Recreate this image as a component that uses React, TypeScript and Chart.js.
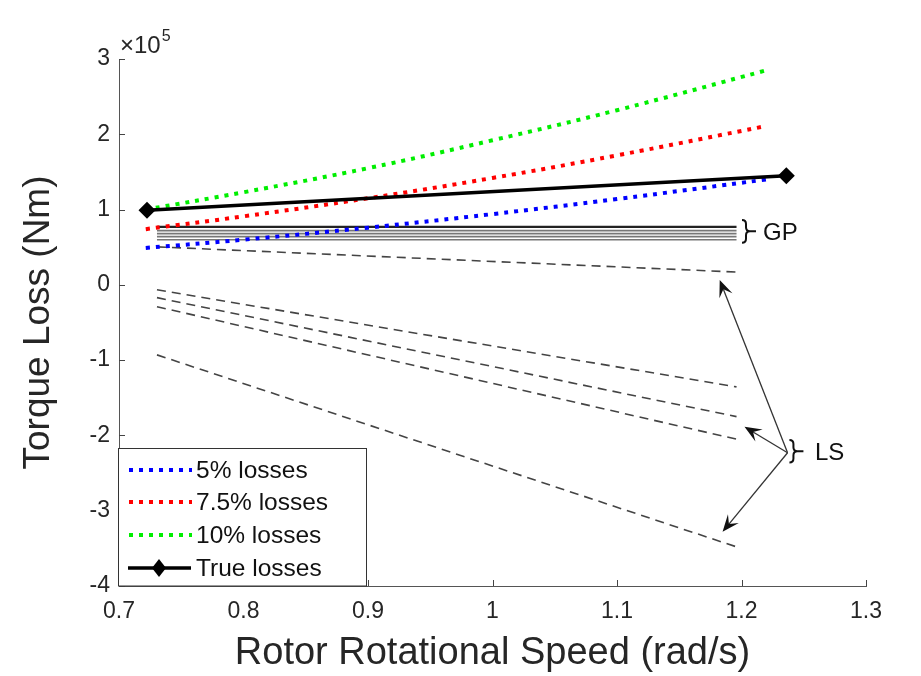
import React, { useEffect, useRef } from "react";
import { Chart, registerables } from "chart.js";

Chart.register(...registerables);

// ---- data (torque in Nm) ----
const speedCurve = [0.7215, 0.8, 0.9, 1.0, 1.1, 1.22];
const loss5 = [0.49e5, 0.6e5, 0.76e5, 0.94e5, 1.14e5, 1.4e5];
const loss75 = [0.74e5, 0.91e5, 1.15e5, 1.42e5, 1.72e5, 2.11e5];
const loss10 = [1.0e5, 1.23e5, 1.55e5, 1.92e5, 2.32e5, 2.85e5];
const speedTrue = [0.7225, 1.236];
const lossTrue = [0.99e5, 1.45e5];

const gpSpeed = [0.7305, 1.196];
const gpLevels = [0.77e5, 0.72e5, 0.68e5, 0.64e5, 0.6e5];

const lsSpeed = [0.7305, 1.196];
const lsStart = [0.505e5, -0.066e5, -0.17e5, -0.29e5, -0.93e5];
const lsEnd = [0.17e5, -1.355e5, -1.75e5, -2.05e5, -3.48e5];

const xTicks = [0.7, 0.8, 0.9, 1.0, 1.1, 1.2, 1.3];
const yTicks = [-4e5, -3e5, -2e5, -1e5, 0, 1e5, 2e5, 3e5];

const legendLabels = ["5% losses", "7.5% losses", "10% losses", "True losses"];
const legendColors = ["#0000ff", "#ff0000", "#00ee00", "#000000"];

// annotations (data coords)
const arrowOrigin = [1.237, -2.23e5];
const arrowTips = [
  [1.1825, 0.066e5],
  [1.2024, -1.885e5],
  [1.1848, -3.28e5],
];
const gpBrace = { x: 1.2004, yTop: 0.863e5, yBot: 0.558e5, label: "GP", tx: 1.2173, ty: 0.7e5 };
const lsBrace = { x: 1.2385, yTop: -2.06e5, yBot: -2.36e5, label: "LS", tx: 1.259, ty: -2.23e5 };

const FONT = '"Liberation Sans", Arial, Helvetica, sans-serif';

function toXY(xs: number[], ys: number[]) {
  return xs.map((x, i) => ({ x, y: ys[i] }));
}

function drawBrace(ctx: CanvasRenderingContext2D, x: number, yTop: number, yBot: number) {
  const w = 8;
  const m = (yTop + yBot) / 2;
  ctx.beginPath();
  ctx.moveTo(x, yTop);
  ctx.quadraticCurveTo(x + w / 2, yTop, x + w / 2, yTop + 4);
  ctx.lineTo(x + w / 2, m - 4);
  ctx.quadraticCurveTo(x + w / 2, m, x + w, m);
  ctx.quadraticCurveTo(x + w / 2, m, x + w / 2, m + 4);
  ctx.lineTo(x + w / 2, yBot - 4);
  ctx.quadraticCurveTo(x + w / 2, yBot, x, yBot);
  ctx.moveTo(x + w, m);
  ctx.lineTo(x + w + 6, m);
  ctx.stroke();
}

function drawArrow(ctx: CanvasRenderingContext2D, x0: number, y0: number, x1: number, y1: number) {
  const ang = Math.atan2(y1 - y0, x1 - x0);
  const L = 17;
  const W = 7;
  const notch = 10;
  ctx.beginPath();
  ctx.moveTo(x0, y0);
  ctx.lineTo(x1 - Math.cos(ang) * notch, y1 - Math.sin(ang) * notch);
  ctx.stroke();
  ctx.save();
  ctx.translate(x1, y1);
  ctx.rotate(ang);
  ctx.beginPath();
  ctx.moveTo(0, 0);
  ctx.lineTo(-L, -W);
  ctx.lineTo(-notch, 0);
  ctx.lineTo(-L, W);
  ctx.closePath();
  ctx.fill();
  ctx.restore();
}

const decorPlugin = {
  id: "decor",
  afterDatasetsDraw(chart: any) {
    const ctx: CanvasRenderingContext2D = chart.ctx;
    const xs = chart.scales.x;
    const ys = chart.scales.y;
    const area = chart.chartArea;
    ctx.save();

    // inward ticks
    ctx.strokeStyle = "#444";
    ctx.lineWidth = 1;
    ctx.beginPath();
    yTicks.forEach((v) => {
      const py = Math.round(ys.getPixelForValue(v)) + 0.5;
      ctx.moveTo(area.left, py);
      ctx.lineTo(area.left + 6, py);
    });
    xTicks.forEach((v) => {
      const px = Math.round(xs.getPixelForValue(v)) + 0.5;
      ctx.moveTo(px, area.bottom);
      ctx.lineTo(px, area.bottom - 6);
    });
    ctx.stroke();

    // exponent label
    ctx.fillStyle = "#262626";
    ctx.textBaseline = "alphabetic";
    ctx.textAlign = "left";
    ctx.font = `24px ${FONT}`;
    ctx.fillText("\u00d710", area.left + 1, area.top - 6);
    const w10 = ctx.measureText("\u00d710").width;
    ctx.font = `16px ${FONT}`;
    ctx.fillText("5", area.left + 1 + w10 + 1, area.top - 18);

    // braces + labels
    ctx.strokeStyle = "#111";
    ctx.fillStyle = "#111";
    ctx.lineWidth = 2;
    [gpBrace, lsBrace].forEach((b) => {
      drawBrace(ctx, xs.getPixelForValue(b.x), ys.getPixelForValue(b.yTop), ys.getPixelForValue(b.yBot));
      ctx.font = `24px ${FONT}`;
      ctx.textBaseline = "middle";
      ctx.textAlign = "left";
      ctx.fillText(b.label, xs.getPixelForValue(b.tx), ys.getPixelForValue(b.ty) + 1);
    });

    // arrows
    ctx.strokeStyle = "#333";
    ctx.fillStyle = "#111";
    ctx.lineWidth = 1.3;
    const ox = xs.getPixelForValue(arrowOrigin[0]);
    const oy = ys.getPixelForValue(arrowOrigin[1]);
    arrowTips.forEach((t) => {
      drawArrow(ctx, ox, oy, xs.getPixelForValue(t[0]), ys.getPixelForValue(t[1]));
    });

    // legend box
    const lx = area.left - 0.5;
    const lt = 448.5;
    const lw = 248;
    const lh = area.bottom - lt;
    ctx.fillStyle = "#ffffff";
    ctx.fillRect(lx, lt, lw, lh);
    ctx.strokeStyle = "#333";
    ctx.lineWidth = 1;
    ctx.strokeRect(lx, lt, lw, lh);
    const rows = [470, 502, 535, 568];
    legendLabels.forEach((lab, i) => {
      const y = rows[i];
      ctx.strokeStyle = legendColors[i];
      if (i < 3) {
        ctx.lineWidth = 4;
        ctx.setLineDash([4, 6]);
        ctx.beginPath();
        ctx.moveTo(129, y);
        ctx.lineTo(192, y);
        ctx.stroke();
        ctx.setLineDash([]);
      } else {
        ctx.lineWidth = 3.5;
        ctx.beginPath();
        ctx.moveTo(128, y);
        ctx.lineTo(191, y);
        ctx.stroke();
        ctx.fillStyle = "#000";
        ctx.beginPath();
        ctx.moveTo(159, y - 9);
        ctx.lineTo(166, y);
        ctx.lineTo(159, y + 9);
        ctx.lineTo(152, y);
        ctx.closePath();
        ctx.fill();
      }
      ctx.fillStyle = "#111";
      ctx.font = `24.5px ${FONT}`;
      ctx.textBaseline = "middle";
      ctx.textAlign = "left";
      ctx.fillText(lab, 196, y + 1);
    });

    ctx.restore();
  },
};

export default function App() {
  const ref = useRef<HTMLCanvasElement | null>(null);
  useEffect(() => {
    document.body.style.margin = "0";
    if (!ref.current) return;
    // first dataset is drawn on top
    const datasets: any[] = [];
    datasets.push({
      data: toXY(speedTrue, lossTrue),
      borderColor: "#000",
      backgroundColor: "#000",
      pointBackgroundColor: "#000",
      borderWidth: 3.5,
      pointStyle: "rectRot",
      pointRadius: 8.5,
      pointBorderWidth: 0,
    });
    datasets.push({ data: toXY(speedCurve, loss10), borderColor: "#00ee00", borderWidth: 4, borderDash: [4, 6], pointRadius: 0, tension: 0.4 });
    datasets.push({ data: toXY(speedCurve, loss75), borderColor: "#ff0000", borderWidth: 4, borderDash: [4, 6], pointRadius: 0, tension: 0.4 });
    datasets.push({ data: toXY(speedCurve, loss5), borderColor: "#0000ff", borderWidth: 4, borderDash: [4, 6], pointRadius: 0, tension: 0.4 });
    lsStart.forEach((s, i) => {
      datasets.push({
        data: toXY(lsSpeed, [s, lsEnd[i]]),
        borderColor: "#444",
        borderWidth: 1.6,
        borderDash: [9, 6],
        pointRadius: 0,
      });
    });
    gpLevels.forEach((lv, i) => {
      datasets.push({
        data: toXY(gpSpeed, [lv, lv]),
        borderColor: i === 0 ? "#222" : "#777",
        borderWidth: i === 0 ? 2.2 : 1.6,
        pointRadius: 0,
      });
    });

    const chart = new Chart(ref.current, {
      type: "line",
      data: { datasets },
      options: {
        animation: false,
        responsive: false,
        layout: { padding: { left: 0, top: 59, right: 55, bottom: 0 } },
        plugins: { legend: { display: false }, tooltip: { enabled: false } },
        scales: {
          x: {
            type: "linear",
            min: 0.7,
            max: 1.3,
            afterFit: (s: any) => { s.height = 90; },
            afterBuildTicks: (s: any) => { s.ticks = xTicks.map((v) => ({ value: v })); },
            grid: { display: false, drawTicks: false },
            border: { display: true, color: "#555", width: 1 },
            ticks: {
              padding: 12,
              color: "#262626",
              font: { family: FONT, size: 23 },
              callback: (v: any) => Number(Number(v).toFixed(1)).toString(),
            },
            title: {
              display: true,
              text: "Rotor Rotational Speed (rad/s)",
              color: "#262626",
              font: { family: FONT, size: 38, lineHeight: 1 },
              padding: { top: 0, bottom: 3 },
            },
          },
          y: {
            type: "linear",
            min: -4e5,
            max: 3e5,
            afterFit: (s: any) => { s.width = 119; },
            afterBuildTicks: (s: any) => { s.ticks = yTicks.map((v) => ({ value: v })); },
            grid: { display: false, drawTicks: false },
            border: { display: true, color: "#555", width: 1 },
            ticks: {
              padding: 9,
              color: "#262626",
              font: { family: FONT, size: 23 },
              callback: (v: any) => String(Math.round(Number(v) / 1e5)),
            },
            title: {
              display: true,
              text: "Torque Loss (Nm)",
              color: "#262626",
              font: { family: FONT, size: 37, lineHeight: 1 },
              padding: { top: 20, bottom: 0 },
            },
          },
        },
      },
      plugins: [decorPlugin],
    });
    return () => chart.destroy();
  }, []);
  return <canvas ref={ref} width={921} height={676} style={{ display: "block" }} />;
}
